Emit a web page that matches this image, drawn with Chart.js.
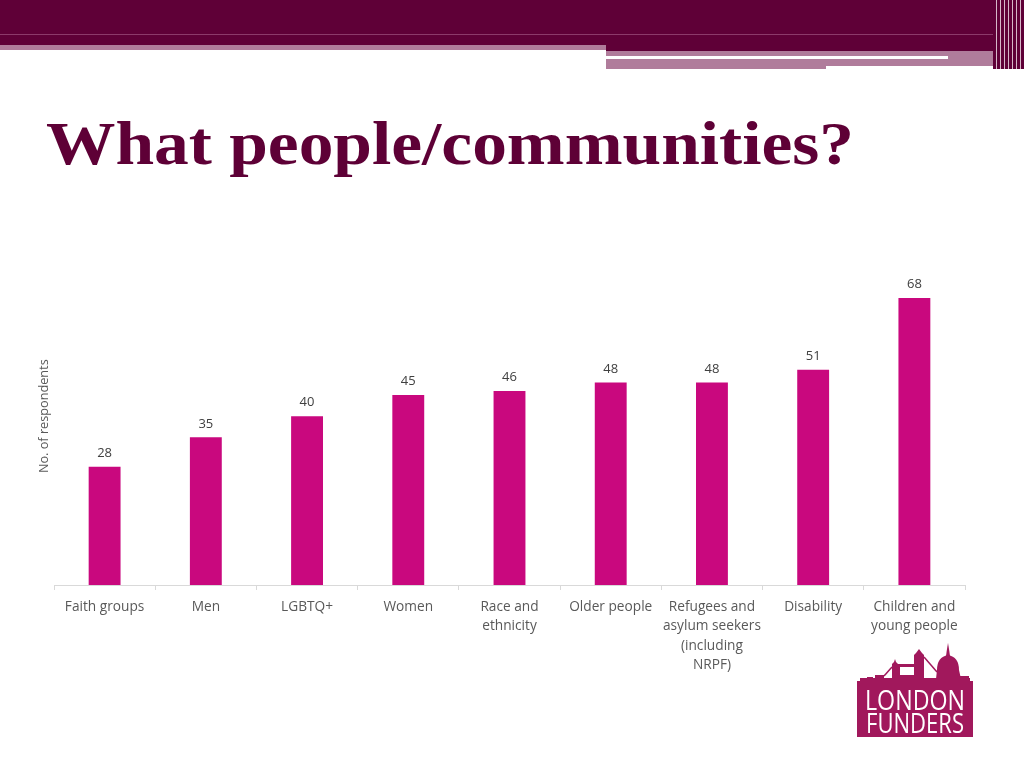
<!DOCTYPE html>
<html>
<head>
<meta charset="utf-8">
<script src="https://cdn.jsdelivr.net/npm/chart.js@4/dist/chart.umd.min.js"></script>
<style>
  html, body { margin: 0; padding: 0; background: #fff; }
  body { width: 1024px; height: 768px; position: relative; overflow: hidden; }
  .band { position: absolute; }
  #title {
    position: absolute; left: 46px; top: 108px; margin: 0;
    font-family: "Liberation Serif", "DejaVu Serif", serif; font-weight: bold;
    font-size: 62px; color: #5e0036; white-space: nowrap;
    transform-origin: left top;
  }
  #chartWrap { position: absolute; left: 32px; top: 230px; width: 940px; height: 470px; }
  #logo { position: absolute; left: 857px; top: 640px; width: 116px; height: 98px; }
  #logoBox {
    position: absolute; left: 0; top: 41px; width: 116px; height: 56px; background: #a1185c;
    color: #fff; font-family: "Open Sans", sans-serif; line-height: 23px;
    font-size: 28px; padding-top: 7px; box-sizing: border-box;
  }
  #logoBox span { display: block; white-space: nowrap; transform-origin: left top; width: max-content; }
</style>
</head>
<body>
<!-- header bands -->
<div class="band" style="left:0;top:0;width:1000px;height:45px;background:#5f0037"></div>
<div class="band" style="left:606px;top:45px;width:394px;height:6px;background:#5f0037"></div>
<div class="band" style="left:0;top:34px;width:1024px;height:1px;background:#8c3a6a"></div>
<div class="band" style="left:0;top:45px;width:606px;height:5px;background:#b07c9b"></div>
<div class="band" style="left:606px;top:51px;width:220px;height:18px;background:#b07c9b"></div>
<div class="band" style="left:826px;top:51px;width:169px;height:15px;background:#b07c9b"></div>
<div class="band" style="left:606px;top:56px;width:342px;height:3px;background:#fff"></div>
<div class="band" style="left:993px;top:0;width:31px;height:69px;background:repeating-linear-gradient(90deg,#5f0037 0,#5f0037 3px,#d6b8c9 3px,#d6b8c9 4px)"></div>

<h1 id="title">What people/communities?</h1>

<div id="chartWrap"><canvas id="chart"></canvas></div>

<div id="logo">
  <svg width="116" height="42" viewBox="0 0 116 42" style="position:absolute;left:0;top:0" fill="#a1185c">
    <rect x="3" y="38" width="110" height="4"/>
    <rect x="10" y="37" width="6" height="2"/>
    <rect x="18" y="35" width="9" height="4"/>
    <polygon points="35,39 35,24 37,22 38,19 39,22 41,24 43,24 43,39"/>
    <rect x="43" y="24" width="15" height="3"/>
    <rect x="43" y="35" width="15" height="4"/>
    <polygon points="57,39 57,15 59,13 62,9 65,13 67,15 67,39"/>
    <polyline points="67,17 80,32" fill="none" stroke="#a1185c" stroke-width="1.5"/>
    <polyline points="35,27 27,36" fill="none" stroke="#a1185c" stroke-width="1.5"/>
    <path d="M79,39 L80,30 Q80,17 91,15 Q102,17 102,30 L104,39 Z"/>
    <polygon points="89,16 90,9 91,3 92,9 93,16"/>
    <rect x="102" y="36" width="10" height="3"/>
  </svg>
  <div id="logoBox"><span>LONDON</span><span>FUNDERS</span></div>
</div>

<script>
const categories = [
  ['Faith groups'], ['Men'], ['LGBTQ+'], ['Women'], ['Race and', 'ethnicity'],
  ['Older people'], ['Refugees and', 'asylum seekers', '(including', 'NRPF)'],
  ['Disability'], ['Children and', 'young people']
]
const respondents = [28, 35, 40, 45, 46, 48, 48, 51, 68]
const axisTitle = 'No. of respondents'

// Squeeze the serif title and the logo words to the slide's widths
function fitWidth(el, target, left) {
  const w = el.getBoundingClientRect().width
  el.style.transform = 'scaleX(' + (target / w) + ')'
  if (left !== undefined) el.style.marginLeft = left + 'px'
}
fitWidth(document.getElementById('title'), 808)
const logoWords = document.querySelectorAll('#logoBox span')
fitWidth(logoWords[0], 100, 8)
fitWidth(logoWords[1], 98, 9)

// Draw value labels above each bar
const valueLabels = {
  id: 'valueLabels',
  afterDatasetsDraw(chart) {
    const ctx = chart.ctx
    ctx.save()
    ctx.font = '13px "Open Sans", sans-serif'
    ctx.fillStyle = '#404040'
    ctx.textAlign = 'center'
    ctx.textBaseline = 'middle'
    chart.getDatasetMeta(0).data.forEach((bar, i) => {
      ctx.fillText(String(respondents[i]), bar.x, bar.y - 13.5)
    })
    ctx.restore()
  }
}

const ctx = document.getElementById('chart').getContext('2d')
new Chart(ctx, {
  type: 'bar',
  data: {
    labels: categories,
    datasets: [{
      label: axisTitle,
      data: respondents,
      backgroundColor: '#c9087e',
      categoryPercentage: 1,
      barPercentage: 0.315
    }]
  },
  options: {
    responsive: true,
    maintainAspectRatio: false,
    animation: false,
    layout: { padding: { top: 17.4, right: 7, left: 0, bottom: 0 } },
    plugins: {
      legend: { display: false },
      tooltip: { enabled: false }
    },
    scales: {
      y: {
        min: 0,
        max: 80,
        ticks: { display: false },
        grid: { display: false },
        border: { display: false },
        title: {
          display: true,
          text: axisTitle,
          color: '#595959',
          font: { family: '"Open Sans", sans-serif', size: 12.7 },
          padding: { top: 5, bottom: 4 }
        },
        afterFit(scale) { scale.width = 22 }
      },
      x: {
        grid: {
          drawOnChartArea: false,
          drawTicks: true,
          tickLength: 5,
          color: '#d9d9d9'
        },
        border: { color: '#d9d9d9' },
        ticks: {
          color: '#595959',
          autoSkip: false,
          maxRotation: 0,
          padding: 8,
          font: { family: '"Open Sans", sans-serif', size: 13.7, lineHeight: 1.39 }
        },
        afterFit(scale) { scale.height = 115 }
      }
    }
  },
  plugins: [valueLabels]
})
</script>
</body>
</html>
